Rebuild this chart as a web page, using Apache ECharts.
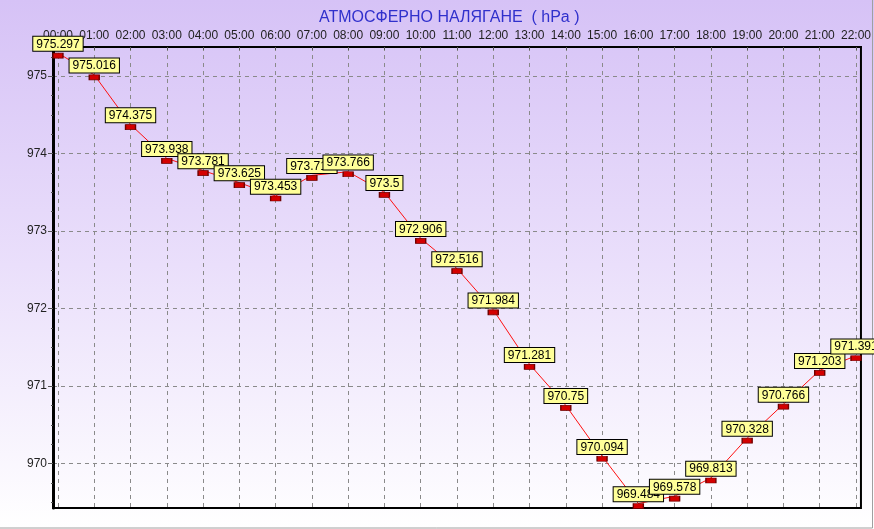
<!DOCTYPE html>
<html>
<head>
<meta charset="utf-8">
<script src="https://cdn.jsdelivr.net/npm/echarts@6/dist/echarts.min.js"></script>
<style>
    html, body { margin: 0; padding: 0; }
    #chart { width: 874px; height: 529px; }
</style>
</head>
<body>
<div id="chart"></div>
<script>
    // hourly readings
    var hours = ['00:00', '01:00', '02:00', '03:00', '04:00', '05:00', '06:00', '07:00',
        '08:00', '09:00', '10:00', '11:00', '12:00', '13:00', '14:00', '15:00',
        '16:00', '17:00', '18:00', '19:00', '20:00', '21:00', '22:00'];
    var pressure = [975.297, 975.016, 974.375, 973.938, 973.781, 973.625, 973.453, 973.719,
        973.766, 973.5, 972.906, 972.516, 971.984, 971.281, 970.75, 970.094,
        969.484, 969.578, 969.813, 970.328, 970.766, 971.203, 971.391];
    var yTicks = [970, 971, 972, 973, 974, 975];
    var hourTicks = [0, 1, 2, 3, 4, 5, 6, 7, 8, 9, 10, 11, 12, 13, 14, 15, 16, 17, 18, 19, 20, 21, 22];

    var yMinor = [];
    for (var v = 969.5; v <= 975.25; v += 0.25) {
        yMinor.push(v);
    }

    var points = [];
    for (var i = 0; i < pressure.length; i++) {
        points.push([i, pressure[i]]);
    }

    var myChart = echarts.init(document.getElementById('chart'));
    var option = {
        backgroundColor: {
            type: 'linear', x: 0, y: 0, x2: 0, y2: 1,
            colorStops: [
                {offset: 0, color: '#d6c2f6'},
                {offset: 0.5, color: '#eadffb'},
                {offset: 1, color: '#ffffff'}
            ]
        },
        textStyle: {fontFamily: 'Liberation Sans'},
        title: {
            text: 'АТМОСФЕРНО НАЛЯГАНЕ  ( hPa )',
            left: 314,
            top: 5,
            textStyle: {color: '#3030cc', fontSize: 16, fontWeight: 'normal', fontFamily: 'Liberation Sans'}
        },
        graphic: [{
            type: 'polyline',
            silent: true,
            shape: {points: [[0, 528], [872.5, 528], [872.5, 0]]},
            style: {stroke: '#a0a0a0', lineWidth: 1, fill: null}
        }],
        grid: {
            left: 53, right: 9, top: 47, bottom: 21,
            show: true,
            borderColor: '#000',
            borderWidth: 2,
            backgroundColor: 'transparent'
        },
        xAxis: {
            type: 'value',
            position: 'top',
            min: -0.137,
            max: 22.137,
            axisLine: {show: true, onZero: false, lineStyle: {color: '#000', width: 2}},
            axisTick: {show: true, inside: true, length: 3, customValues: hourTicks, lineStyle: {color: '#555'}},
            axisLabel: {
                customValues: hourTicks,
                color: '#222',
                fontSize: 12,
                margin: 5,
                formatter: function (val) { return hours[Math.round(val)]; }
            },
            splitLine: {show: true, lineStyle: {color: '#8a8a8a', type: [4, 4], width: 1}}
        },
        yAxis: [
            {
                type: 'value',
                min: 969.426,
                max: 975.376,
                axisLine: {show: true, onZero: false, lineStyle: {color: '#000', width: 3}},
                axisTick: {show: true, length: 5, customValues: yTicks, lineStyle: {color: '#555'}},
                axisLabel: {customValues: yTicks, color: '#222', fontSize: 12, margin: 6},
                splitLine: {show: true, lineStyle: {color: '#8a8a8a', type: [4, 4], width: 1}}
            },
            {
                type: 'value',
                position: 'left',
                min: 969.426,
                max: 975.376,
                axisLine: {show: false, onZero: false},
                axisTick: {show: true, length: 2, customValues: yMinor, lineStyle: {color: '#555'}},
                axisLabel: {show: false},
                splitLine: {show: false}
            }
        ],
        series: [{
            type: 'line',
            data: points,
            symbol: 'rect',
            symbolSize: [10, 5],
            symbolOffset: [0, 2.5],
            lineStyle: {color: '#ff1010', width: 1},
            itemStyle: {color: '#d40000', borderColor: '#700000', borderWidth: 1},
            label: {
                show: true,
                position: 'top',
                distance: 2,
                color: '#000',
                fontSize: 12,
                lineHeight: 13,
                fontFamily: 'Liberation Sans',
                backgroundColor: '#ffff99',
                borderColor: '#000',
                borderWidth: 1,
                padding: [1, 3, 0, 3],
                formatter: function (p) { return p.value[1]; }
            },
            emphasis: {disabled: true},
            animation: false
        }]
    };
    myChart.setOption(option);
    window.addEventListener("resize", function () {
        myChart.resize();
    }, false);
</script>
</body>
</html>
